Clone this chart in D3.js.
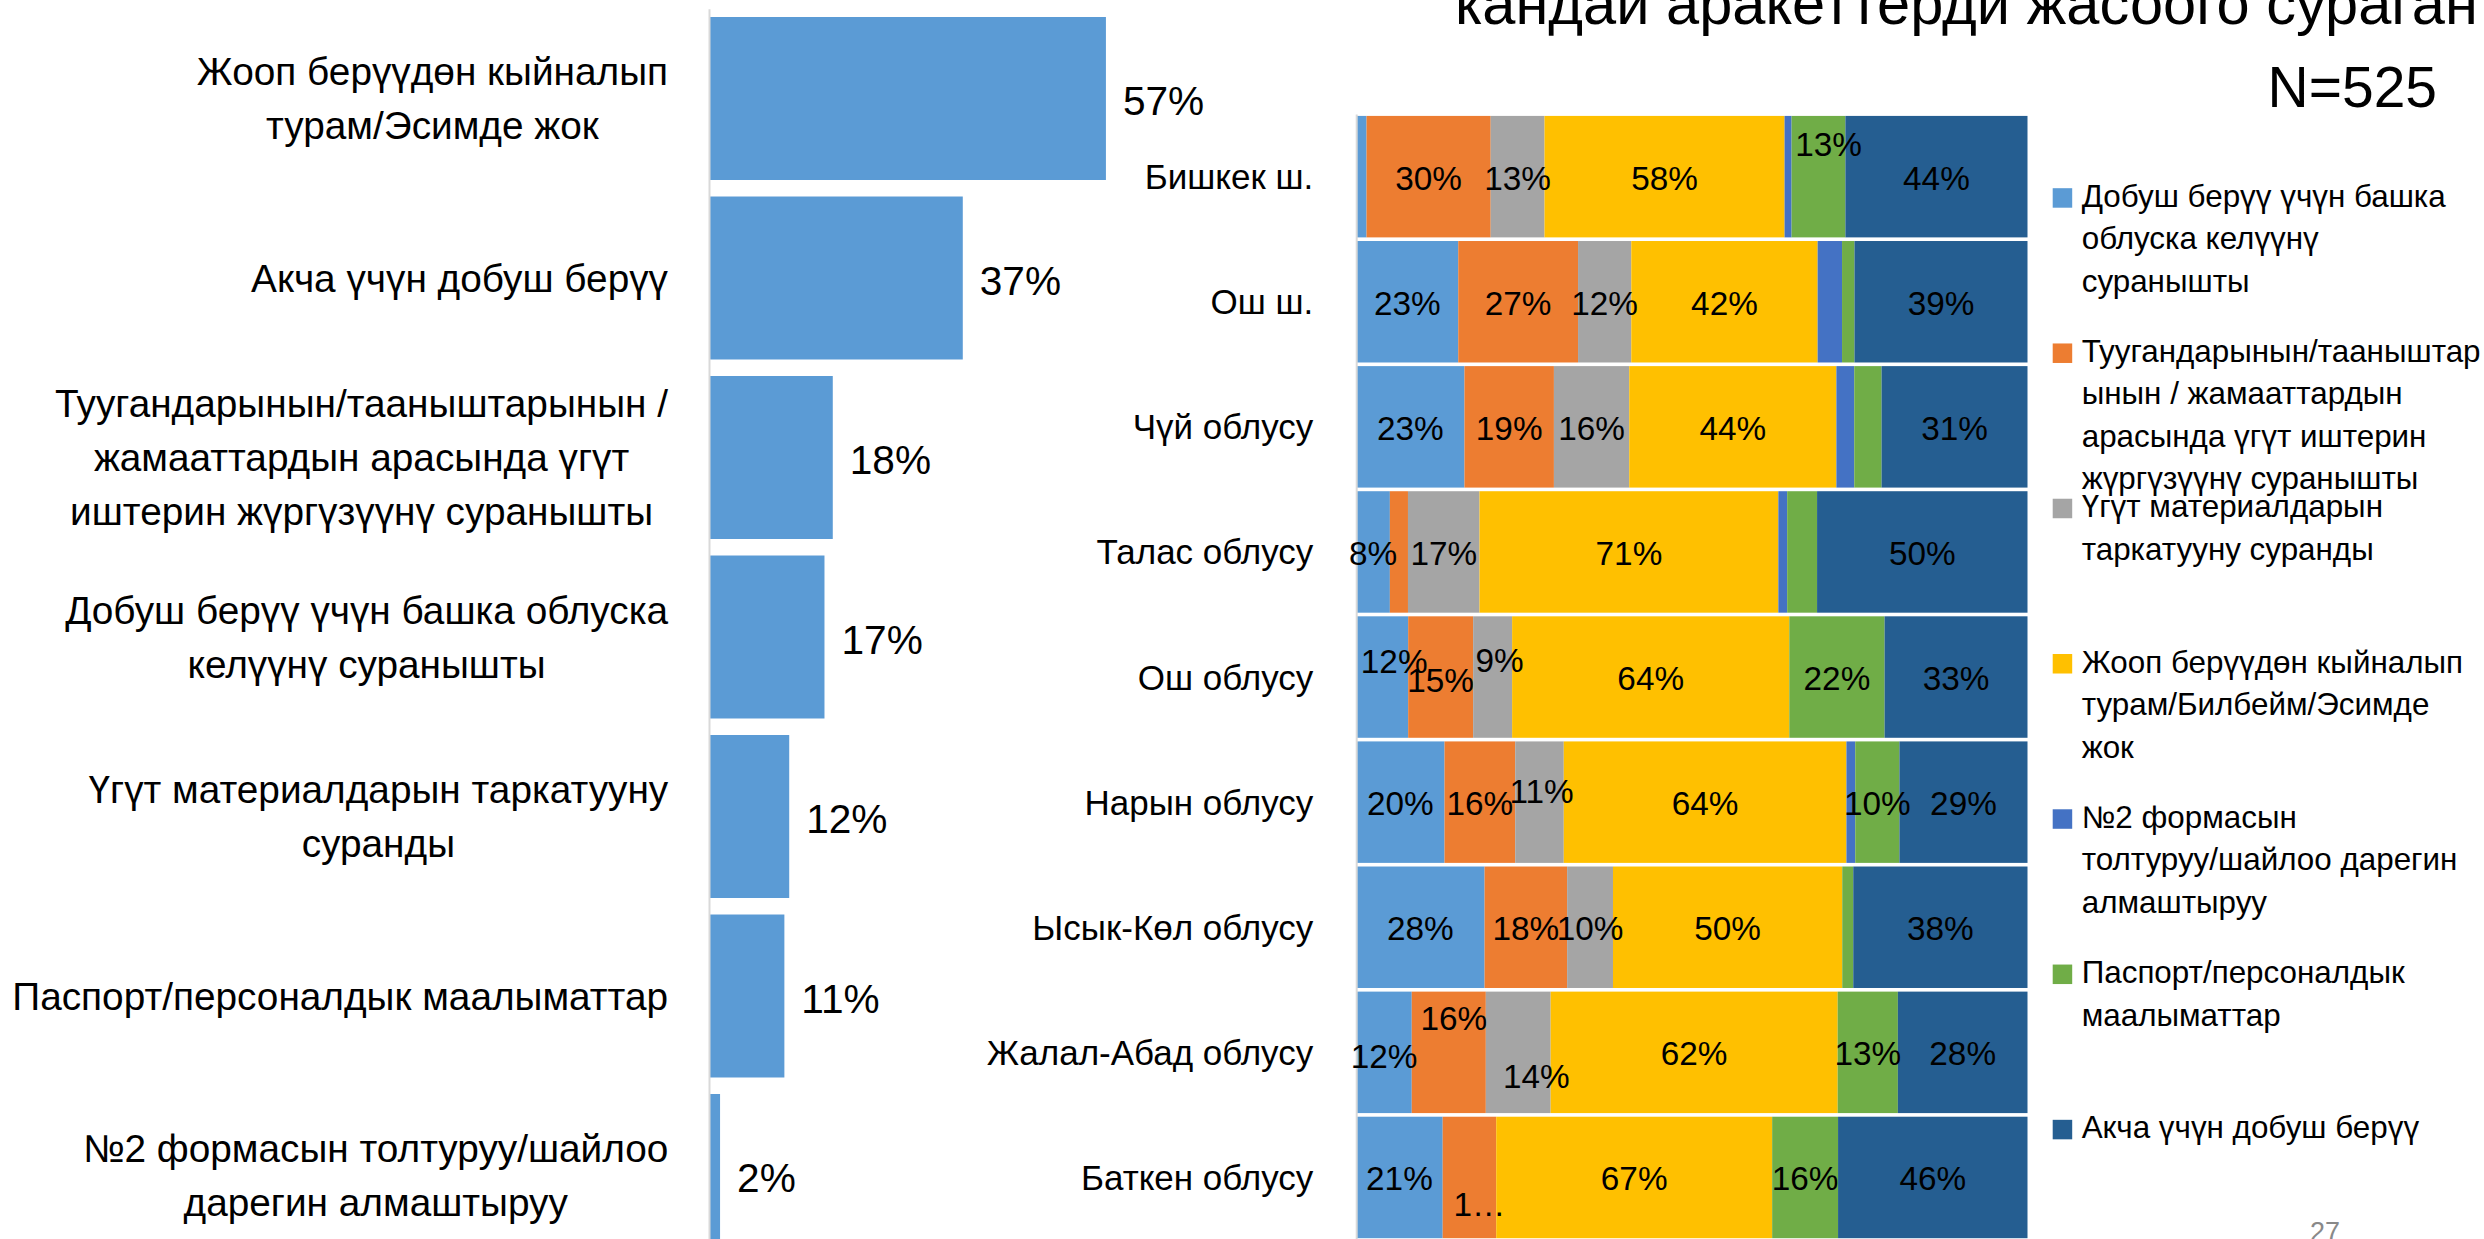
<!DOCTYPE html>
<html><head><meta charset="utf-8">
<script src="https://cdn.jsdelivr.net/npm/d3@7"></script>
<style>html,body{margin:0;padding:0;background:#fff;overflow:hidden}</style>
</head><body>
<svg id="c" width="2484" height="1239"></svg>
<script>
// ---------------- DATA ----------------
const leftCategories = [
  "Жооп берүүдөн кыйналып\nтурам/Эсимде жок",
  "Акча үчүн добуш берүү",
  "Туугандарынын/тааныштарынын /\nжамааттардын арасында үгүт\nиштерин жүргүзүүнү суранышты",
  "Добуш берүү үчүн башка облуска\nкелүүнү суранышты",
  "Үгүт материалдарын таркатууну\nсуранды",
  "Паспорт/персоналдык маалыматтар",
  "№2 формасын толтуруу/шайлоо\nдарегин алмаштыруу"
];
const leftValues = [57.4, 36.7, 17.9, 16.7, 11.6, 10.9, 1.6];

const regions = ["Бишкек ш.", "Ош ш.", "Чүй облусу", "Талас облусу", "Ош облусу",
  "Нарын облусу", "Ысык-Көл облусу", "Жалал-Абад облусу", "Баткен облусу"];

const seriesNames = [
  "Добуш берүү үчүн башка\nоблуска келүүнү\nсуранышты",
  "Туугандарынын/тааныштар\nынын / жамааттардын\nарасында үгүт иштерин\nжүргүзүүнү суранышты",
  "Үгүт материалдарын\nтаркатууну суранды",
  "Жооп берүүдөн кыйналып\nтурам/Билбейм/Эсимде\nжок",
  "№2 формасын\nтолтуруу/шайлоо дарегин\nалмаштыруу",
  "Паспорт/персоналдык\nмаалыматтар",
  "Акча үчүн добуш берүү"
];
const otherRegion   = [2.5, 23, 23, 8, 12, 20, 28, 12, 21];
const relatives     = [30, 27, 19, 4.3, 15, 16, 18, 16, 13];
const materials     = [13, 12, 16, 17, 9, 11, 10, 14, 0];
const hardToAnswer  = [58, 42, 44, 71, 64, 64, 50, 62, 67];
const formNo2       = [1.7, 5.5, 3.8, 2.1, 0, 2, 0, 0, 0];
const passport      = [13, 2.8, 5.8, 7.1, 22, 10, 2.4, 13, 16];
const moneyVote     = [44, 39, 31, 50, 33, 29, 38, 28, 46];
const seriesValues = [otherRegion, relatives, materials, hardToAnswer, formNo2, passport, moneyVote];
const seriesColors = ["#5B9BD5", "#ED7D31", "#A5A5A5", "#FFC000", "#4472C4", "#70AD47", "#255E91"];

const titleText = "кандай аракеттерди жасоого сураган";
const nText = "N=525";
const pageText = "27";

// label nudges (px) for a few data labels, keyed "region-series"
const labelNudges = {"0-5":[10,-34], "4-0":[12,-17], "4-1":[0,2], "4-2":[7,-18], "5-2":[2,-12],
  "7-1":[5,-35], "7-2":[18,23], "7-0":[0,3], "8-1":[10,26]};
const labelOverrides = {"8-1": "1…"};

// ---------------- DRAW ----------------
const FONT = "'Liberation Sans', Arial, sans-serif";
const CAP = 0.716;
const svg = d3.select("#c");
function fit(sample, target) {
  const t = svg.append("text").attr("font-size", 100).style("font-family", FONT).text(sample);
  const w = t.node().getComputedTextLength(); t.remove();
  return 100 * target / w;
}
const fsLeftCat = fit("Акча үчүн добуш берүү", 417);
const fsLeftVal = fit("57%", 81.3);
const fsRightCat = fit("Жалал-Абад облусу", 326.7);
const fsSeg = fit("30%", 66.7);
const fsLegend = fit("Добуш берүү үчүн башка", 364.3);
const fsN = fit("N=525", 169.4);
const fsTitle = fit(titleText, 1023);
const fsPage = fit("27", 30);

// ---- Left chart ----
const yL = d3.scaleBand().domain(d3.range(leftValues.length)).range([8.75, 1265.25])
  .paddingInner(0.092).paddingOuter(0.046);
const xL = d3.scaleLinear().domain([0, 100]).range([709, 709 + 691.5]);
const gL = svg.append("g");
gL.selectAll("rect").data(leftValues).join("rect")
  .attr("x", xL(0)).attr("y", (d,i)=>yL(i))
  .attr("width", d=>xL(d)-xL(0)).attr("height", yL.bandwidth())
  .attr("fill", "#5B9BD5");
const axL = gL.append("g").attr("transform", `translate(${xL(0)},0)`)
  .call(d3.axisLeft(yL).tickSize(0).tickFormat(""));
axL.select(".domain").attr("stroke", "#D9D9D9").attr("stroke-width", 2);
gL.selectAll("text.val").data(leftValues).join("text").attr("class","val")
  .attr("x", d=>xL(d)+17).attr("y", (d,i)=>yL(i)+yL.bandwidth()/2 + CAP*fsLeftVal/2 + 2)
  .style("font-family", FONT).attr("font-size", fsLeftVal).attr("fill", "#000")
  .text(d=>Math.round(d)+"%");
leftCategories.forEach((c,i)=>{
  const lines = c.split("\n");
  const t = gL.append("text").style("font-family", FONT).attr("font-size", fsLeftCat)
    .attr("fill","#000").attr("text-anchor","middle");
  const spans = lines.map(l=>t.append("tspan").text(l));
  const maxW = d3.max(spans, s=>s.node().getComputedTextLength());
  const cx = 668 - maxW/2;
  const cy = yL(i) + yL.bandwidth()/2;
  spans.forEach((s,k)=>s.attr("x", cx).attr("y", cy + (k-(lines.length-1)/2)*54 + CAP*fsLeftCat/2));
});

// ---- Right chart ----
const keys = d3.range(seriesValues.length);
const rows = regions.map((r,i)=>{ const o={region:r}; keys.forEach(k=>o[k]=seriesValues[k][i]); return o; });
const stacked = d3.stack().keys(keys).offset(d3.stackOffsetExpand)(rows);
const xR = d3.scaleLinear().domain([0,1]).range([1356.2, 2027.5]);
const yR = d3.scaleBand().domain(regions).range([114.1, 1240]).paddingInner(0.029).paddingOuter(0.0145);
const gR = svg.append("g");
stacked.forEach((layer, k)=>{
  gR.append("g").selectAll("rect").data(layer).join("rect")
    .attr("x", d=>xR(d[0])).attr("width", d=>xR(d[1])-xR(d[0]))
    .attr("y", d=>yR(d.data.region)).attr("height", yR.bandwidth())
    .attr("fill", seriesColors[k]);
});
const axR = gR.append("g").attr("transform", `translate(${xR(0)},0)`)
  .call(d3.axisLeft(yR).tickSize(0).tickPadding(43).tickFormat(d=>d));
axR.select(".domain").attr("stroke", "#D9D9D9").attr("stroke-width", 2);
axR.selectAll(".tick text").style("font-family", FONT).attr("font-size", fsRightCat)
  .attr("fill","#000").attr("dy", null).attr("y", CAP*fsRightCat/2);
// segment labels
stacked.forEach((layer, k)=>{
  layer.forEach((d, i)=>{
    const v = seriesValues[k][i];
    if (v < 8) return;
    const key = i+"-"+k;
    const nd = labelNudges[key] || [0,0];
    gR.append("text").style("font-family", FONT).attr("font-size", fsSeg).attr("fill","#000")
      .attr("text-anchor","middle")
      .attr("x", (xR(d[0])+xR(d[1]))/2 + nd[0])
      .attr("y", yR(d.data.region) + yR.bandwidth()/2 + CAP*fsSeg/2 + 1 + nd[1])
      .text(labelOverrides[key] || (Math.round(v)+"%"));
  });
});

// ---- Legend ----
const gLeg = svg.append("g");
seriesNames.forEach((n,k)=>{
  const top = 188.2 + k*155.27;
  gLeg.append("rect").attr("x", 2052.7).attr("y", top).attr("width", 19.5).attr("height", 19.5)
    .attr("fill", seriesColors[k]);
  const t = gLeg.append("text").style("font-family", FONT).attr("font-size", fsLegend).attr("fill","#000");
  n.split("\n").forEach((l,j)=>t.append("tspan").attr("x", 2081.7).attr("y", top + 18.5 + j*42.5).text(l));
});

// ---- Titles ----
svg.append("text").attr("x", 1455).attr("y", 24).style("font-family", FONT)
  .attr("font-size", fsTitle).attr("fill","#000").text(titleText);
svg.append("text").attr("x", 2267.6).attr("y", 106.7).style("font-family", FONT)
  .attr("font-size", fsN).attr("fill","#000").text(nText);
svg.append("text").attr("x", 2310).attr("y", 1241).style("font-family", FONT)
  .attr("font-size", fsPage).attr("fill","#898989").text(pageText);
</script>
</body></html>
